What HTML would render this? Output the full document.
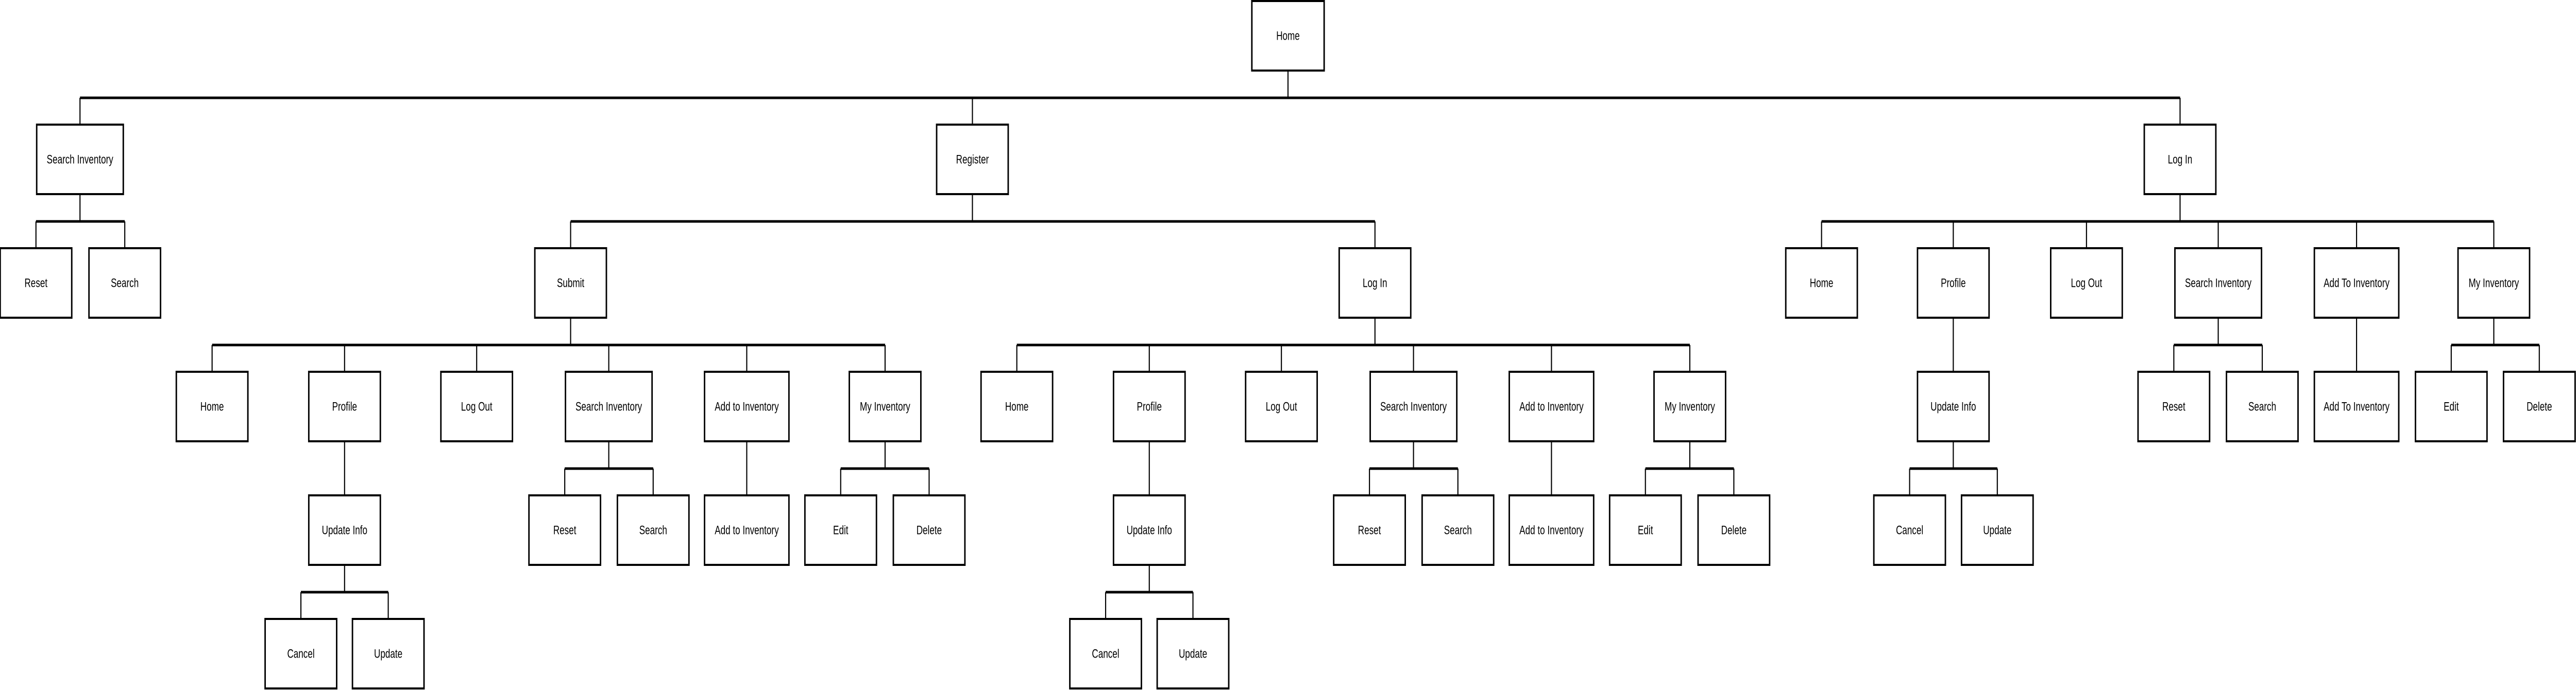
<!DOCTYPE html>
<html><head><meta charset="utf-8"><style>
html,body{margin:0;padding:0;background:#fff;width:100%;height:100%;overflow:hidden;}
svg{display:block;width:100vw;height:100vh}
text{font-family:"Liberation Sans",sans-serif;font-size:24px;fill:#000;text-anchor:middle;dominant-baseline:central}
rect{fill:#fff;stroke:#000;stroke-width:4}
.b{stroke:#000;stroke-width:5;fill:none}
.v{stroke:#000;stroke-width:3;fill:none}
</style></head><body>
<svg viewBox="0 0 7020 1340" preserveAspectRatio="none" xmlns="http://www.w3.org/2000/svg">
<path class="b" d="M218 190H5941 M98 430H340 M1555 430H3747 M4964 430H6796 M578 670H2412 M2771 670H4605 M5924 670H6165 M6680 670H6920 M1539 910H1780 M2291 910H2532 M3732 910H3973 M4484 910H4725 M5204 910H5443 M820 1150H1058 M3013 1150H3251"/>
<path class="v" d="M3510 137V190 M218 190V242 M2650 190V242 M5941 190V242
M218 377V430 M2650 377V430 M5941 377V430
M98 430V482 M340 430V482 M1555 430V482 M3747 430V482 M4964 430V482 M5323 430V482 M5686 430V482 M6045 430V482 M6422 430V482 M6796 430V482
M1555 617V670 M3747 617V670 M6045 617V670 M6796 617V670 M5323 617V722 M6422 617V722
M578 670V722 M939 670V722 M1299 670V722 M1659 670V722 M2035 670V722 M2412 670V722
M2771 670V722 M3132 670V722 M3492 670V722 M3852 670V722 M4228 670V722 M4605 670V722
M5924 670V722 M6165 670V722 M6680 670V722 M6920 670V722
M1659 857V910 M2412 857V910 M3852 857V910 M4605 857V910 M5323 857V910
M939 857V962 M2035 857V962 M3132 857V962 M4228 857V962
M1539 910V962 M1780 910V962 M2291 910V962 M2532 910V962 M3732 910V962 M3973 910V962 M4484 910V962 M4725 910V962 M5204 910V962 M5443 910V962
M939 1097V1150 M3132 1097V1150 M820 1150V1202 M1058 1150V1202 M3013 1150V1202 M3251 1150V1202"/>
<rect x="3411.5" y="2" width="197" height="135"/><text x="3510" y="70">Home</text>
<rect x="100" y="242" width="236" height="135"/><text x="218" y="310">Search Inventory</text>
<rect x="2552.5" y="242" width="195" height="135"/><text x="2650" y="310">Register</text>
<rect x="5843.5" y="242" width="195" height="135"/><text x="5941" y="310">Log In</text>
<rect x="0.5" y="482" width="195" height="135"/><text x="98" y="550">Reset</text>
<rect x="242.5" y="482" width="195" height="135"/><text x="340" y="550">Search</text>
<rect x="1457.5" y="482" width="195" height="135"/><text x="1555" y="550">Submit</text>
<rect x="3649.5" y="482" width="195" height="135"/><text x="3747" y="550">Log In</text>
<rect x="4866.5" y="482" width="195" height="135"/><text x="4964" y="550">Home</text>
<rect x="5225.5" y="482" width="195" height="135"/><text x="5323" y="550">Profile</text>
<rect x="5588.5" y="482" width="195" height="135"/><text x="5686" y="550">Log Out</text>
<rect x="5927" y="482" width="236" height="135"/><text x="6045" y="550">Search Inventory</text>
<rect x="6307" y="482" width="230" height="135"/><text x="6422" y="550">Add To Inventory</text>
<rect x="6698.5" y="482" width="195" height="135"/><text x="6796" y="550">My Inventory</text>
<rect x="480.5" y="722" width="195" height="135"/><text x="578" y="790">Home</text>
<rect x="841.5" y="722" width="195" height="135"/><text x="939" y="790">Profile</text>
<rect x="1201.5" y="722" width="195" height="135"/><text x="1299" y="790">Log Out</text>
<rect x="1541" y="722" width="236" height="135"/><text x="1659" y="790">Search Inventory</text>
<rect x="1920" y="722" width="230" height="135"/><text x="2035" y="790">Add to Inventory</text>
<rect x="2314.5" y="722" width="195" height="135"/><text x="2412" y="790">My Inventory</text>
<rect x="2673.5" y="722" width="195" height="135"/><text x="2771" y="790">Home</text>
<rect x="3034.5" y="722" width="195" height="135"/><text x="3132" y="790">Profile</text>
<rect x="3394.5" y="722" width="195" height="135"/><text x="3492" y="790">Log Out</text>
<rect x="3734" y="722" width="236" height="135"/><text x="3852" y="790">Search Inventory</text>
<rect x="4113" y="722" width="230" height="135"/><text x="4228" y="790">Add to Inventory</text>
<rect x="4507.5" y="722" width="195" height="135"/><text x="4605" y="790">My Inventory</text>
<rect x="5225.5" y="722" width="195" height="135"/><text x="5323" y="790">Update Info</text>
<rect x="5826.5" y="722" width="195" height="135"/><text x="5924" y="790">Reset</text>
<rect x="6067.5" y="722" width="195" height="135"/><text x="6165" y="790">Search</text>
<rect x="6307" y="722" width="230" height="135"/><text x="6422" y="790">Add To Inventory</text>
<rect x="6582.5" y="722" width="195" height="135"/><text x="6680" y="790">Edit</text>
<rect x="6822.5" y="722" width="195" height="135"/><text x="6920" y="790">Delete</text>
<rect x="841.5" y="962" width="195" height="135"/><text x="939" y="1030">Update Info</text>
<rect x="1441.5" y="962" width="195" height="135"/><text x="1539" y="1030">Reset</text>
<rect x="1682.5" y="962" width="195" height="135"/><text x="1780" y="1030">Search</text>
<rect x="1920" y="962" width="230" height="135"/><text x="2035" y="1030">Add to Inventory</text>
<rect x="2193.5" y="962" width="195" height="135"/><text x="2291" y="1030">Edit</text>
<rect x="2434.5" y="962" width="195" height="135"/><text x="2532" y="1030">Delete</text>
<rect x="3034.5" y="962" width="195" height="135"/><text x="3132" y="1030">Update Info</text>
<rect x="3634.5" y="962" width="195" height="135"/><text x="3732" y="1030">Reset</text>
<rect x="3875.5" y="962" width="195" height="135"/><text x="3973" y="1030">Search</text>
<rect x="4113" y="962" width="230" height="135"/><text x="4228" y="1030">Add to Inventory</text>
<rect x="4386.5" y="962" width="195" height="135"/><text x="4484" y="1030">Edit</text>
<rect x="4627.5" y="962" width="195" height="135"/><text x="4725" y="1030">Delete</text>
<rect x="5106.5" y="962" width="195" height="135"/><text x="5204" y="1030">Cancel</text>
<rect x="5345.5" y="962" width="195" height="135"/><text x="5443" y="1030">Update</text>
<rect x="722.5" y="1202" width="195" height="135"/><text x="820" y="1270">Cancel</text>
<rect x="960.5" y="1202" width="195" height="135"/><text x="1058" y="1270">Update</text>
<rect x="2915.5" y="1202" width="195" height="135"/><text x="3013" y="1270">Cancel</text>
<rect x="3153.5" y="1202" width="195" height="135"/><text x="3251" y="1270">Update</text>
</svg>
</body></html>
